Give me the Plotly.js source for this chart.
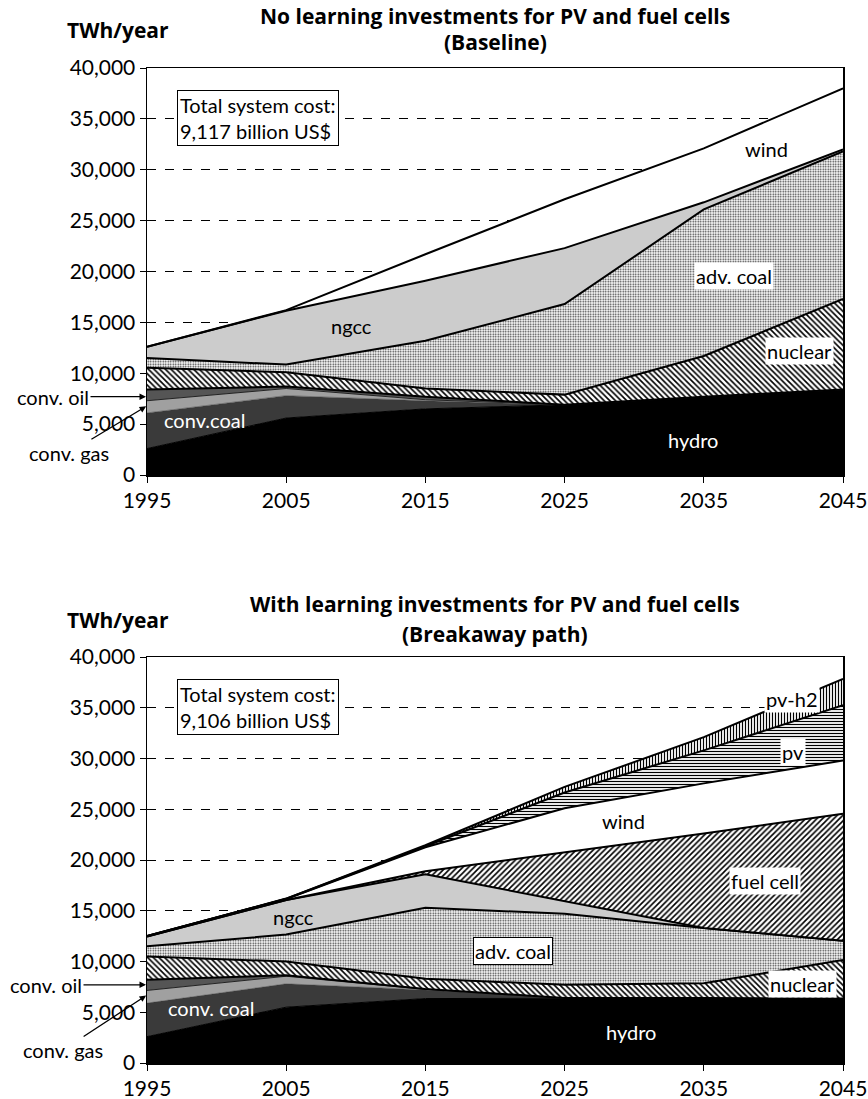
<!DOCTYPE html>
<html>
<head>
<meta charset="utf-8">
<script src="https://cdn.plot.ly/plotly-3.0.1.min.js"></script>
<style>html,body{margin:0;padding:0;background:#fff;}#chart{width:868px;height:1099px;}</style>
</head>
<body>
<div id="chart"></div>
<script>
const years = [1995, 2005, 2015, 2025, 2035, 2045];
const tickVals = [0, 5000, 10000, 15000, 20000, 25000, 30000, 35000, 40000];

// Baseline (top chart), TWh/year per technology
const baseHydro   = [2600, 5600, 6500, 6900, 7700, 8400];
const baseConvCoal= [3500, 2200, 800, 0, 0, 0];
const baseConvGas = [1200, 700, 100, 0, 0, 0];
const baseConvOil = [1100, 200, 300, 0, 0, 0];
const baseNuclear = [2150, 1400, 800, 1000, 4000, 8900];
const baseAdvCoal = [950, 750, 4700, 8900, 14400, 14500];
const baseNgcc    = [1100, 5300, 5900, 5500, 700, 200];
const baseWind    = [0, 50, 2600, 4800, 5300, 6000];

// Breakaway path (bottom chart)
const brkHydro    = [2600, 5500, 6350, 6400, 6400, 6350];
const brkConvCoal = [3300, 2300, 850, 0, 0, 0];
const brkConvGas  = [1250, 750, 50, 0, 0, 0];
const brkConvOil  = [1050, 100, 50, 0, 0, 0];
const brkNuclear  = [2300, 1350, 1000, 1300, 1450, 3800];
const brkAdvCoal  = [1000, 2650, 7000, 7000, 5450, 1900];
const brkNgcc     = [950, 3400, 3300, 1250, 0, 0];
const brkFuelCell = [0, 0, 300, 4800, 9300, 12500];
const brkWind     = [50, 100, 2350, 4350, 4950, 5250];
const brkPv       = [0, 30, 100, 1550, 3250, 5450];
const brkPvH2     = [0, 20, 100, 550, 1300, 2600];

const FONT = 'Lato, "Open Sans", sans-serif';
const BFONT = '"Open Sans", Lato, sans-serif';

const styles = {
  hydro:   {fillcolor: '#000000', line: {color: '#000', width: 1}},
  coal:    {fillcolor: '#3a3a3a', line: {color: '#3a3a3a', width: 0.5}},
  gas:     {fillcolor: '#a0a0a0', line: {color: '#222', width: 1}},
  oil:     {fillcolor: '#555555', line: {color: '#000', width: 2}},
  nuclear: {fillcolor: '#ffffff', fillpattern: {shape: '\\', fgcolor: '#000', bgcolor: '#fff', size: 4, solidity: 0.4}, line: {color: '#000', width: 2}},
  advcoal: {fillcolor: '#ffffff', fillpattern: {shape: '.', fgcolor: '#333', bgcolor: '#fff', size: 2.5, solidity: 0.35}, line: {color: '#000', width: 2}},
  ngcc:    {fillcolor: '#cccccc', line: {color: '#000', width: 2}},
  fuel:    {fillcolor: '#ffffff', fillpattern: {shape: '/', fgcolor: '#000', bgcolor: '#fff', size: 4, solidity: 0.4}, line: {color: '#000', width: 2}},
  wind:    {fillcolor: '#ffffff', line: {color: '#000', width: 2}},
  pv:      {fillcolor: '#ffffff', fillpattern: {shape: '-', fgcolor: '#000', bgcolor: '#fff', size: 3, solidity: 0.4}, line: {color: '#000', width: 2}},
  pvh2:    {fillcolor: '#ffffff', fillpattern: {shape: '|', fgcolor: '#000', bgcolor: '#fff', size: 3, solidity: 0.4}, line: {color: '#000', width: 2}}
};

function area(name, vals, style, xa, ya, group) {
  const t = {
    type: 'scatter', mode: 'lines', name: name, x: years, y: vals,
    stackgroup: group, xaxis: xa, yaxis: ya,
    fillcolor: style.fillcolor, line: Object.assign({shape: 'linear'}, style.line),
    hoverinfo: 'skip', showlegend: false
  };
  if (style.fillpattern) t.fillpattern = Object.assign({fillmode: 'replace'}, style.fillpattern);
  return t;
}

const data = [
  area('hydro', baseHydro, styles.hydro, 'x', 'y', 'a'),
  area('conv. coal', baseConvCoal, styles.coal, 'x', 'y', 'a'),
  area('conv. gas', baseConvGas, styles.gas, 'x', 'y', 'a'),
  area('conv. oil', baseConvOil, styles.oil, 'x', 'y', 'a'),
  area('nuclear', baseNuclear, styles.nuclear, 'x', 'y', 'a'),
  area('adv. coal', baseAdvCoal, styles.advcoal, 'x', 'y', 'a'),
  area('ngcc', baseNgcc, styles.ngcc, 'x', 'y', 'a'),
  area('wind', baseWind, styles.wind, 'x', 'y', 'a'),

  area('hydro', brkHydro, styles.hydro, 'x2', 'y2', 'b'),
  area('conv. coal', brkConvCoal, styles.coal, 'x2', 'y2', 'b'),
  area('conv. gas', brkConvGas, styles.gas, 'x2', 'y2', 'b'),
  area('conv. oil', brkConvOil, styles.oil, 'x2', 'y2', 'b'),
  area('nuclear', brkNuclear, styles.nuclear, 'x2', 'y2', 'b'),
  area('adv. coal', brkAdvCoal, styles.advcoal, 'x2', 'y2', 'b'),
  area('ngcc', brkNgcc, styles.ngcc, 'x2', 'y2', 'b'),
  area('fuel cell', brkFuelCell, styles.fuel, 'x2', 'y2', 'b'),
  area('wind', brkWind, styles.wind, 'x2', 'y2', 'b'),
  area('pv', brkPv, styles.pv, 'x2', 'y2', 'b'),
  area('pv-h2', brkPvH2, styles.pvh2, 'x2', 'y2', 'b')
];

function xAxis(anchor) {
  return {
    anchor: anchor, domain: [0, 1], range: [1995, 2045], tickvals: years,
    ticks: 'outside', ticklen: 6, tickcolor: '#000', tickwidth: 1,
    showline: true, linecolor: '#000', linewidth: 1.5, mirror: true,
    showgrid: false, zeroline: false,
    tickfont: {family: FONT, size: 21, color: '#000'}
  };
}
function yAxis(anchor, domain) {
  return {
    anchor: anchor, domain: domain, range: [0, 40000], tickvals: tickVals, tickformat: ',d',
    ticks: 'outside', ticklen: 6, tickcolor: '#000', tickwidth: 1,
    showline: true, linecolor: '#000', linewidth: 1.5, mirror: true,
    showgrid: true, gridcolor: '#000', gridwidth: 1, griddash: 'dash',
    zeroline: false,
    tickfont: {family: FONT, size: 21, color: '#000'}
  };
}

const lf = {family: FONT, size: 20, color: '#000'};
const wf = {family: FONT, size: 20, color: '#fff'};
const tf = {family: BFONT, size: 21, color: '#000', weight: 'bold'};

function lab(xr, yr, x, y, text, font, extra) {
  return Object.assign({xref: xr, yref: yr, x: x, y: y, text: text, showarrow: false, font: font}, extra || {});
}
function py(p) { return (1063 - p) / 995; }
function px(p) { return (p - 147) / 696; }

const annotations = [
  // top chart headings
  lab('paper', 'paper', px(495), py(16), '<b>No learning investments for PV and fuel cells</b>', tf, {xanchor: 'center', yanchor: 'middle'}),
  lab('paper', 'paper', px(495), py(42), '<b>(Baseline)</b>', tf, {xanchor: 'center', yanchor: 'middle'}),
  lab('paper', 'paper', px(65), py(30), '<b>TWh/year</b>', tf, {xanchor: 'left', yanchor: 'middle'}),
  lab('x', 'y', 2003.0, 35100, 'Total system cost:<br>9,117 billion US$', lf,
      {align: 'left', bgcolor: '#fff', bordercolor: '#000', borderwidth: 1, borderpad: 2}),
  lab('x', 'y', 2039.5, 32000, 'wind', lf),
  lab('x', 'y', 2009.7, 14600, 'ngcc', lf),
  lab('x', 'y', 2037.2, 19600, 'adv. coal', lf, {bgcolor: '#fff'}),
  lab('x', 'y', 2041.9, 12150, 'nuclear', lf, {bgcolor: '#fff'}),
  lab('x', 'y', 2034.2, 3400, 'hydro', wf),
  lab('x', 'y', 1999.1, 5400, 'conv.coal', wf),
  {xref: 'x', yref: 'y', x: 1995, y: 7700, ax: -94, ay: 0, axref: 'pixel', ayref: 'pixel',
   text: 'conv. oil', font: lf, showarrow: true, arrowhead: 2, arrowsize: 1, arrowwidth: 1.3, arrowcolor: '#000', standoff: 1},
  {xref: 'x', yref: 'y', x: 1995, y: 6800, ax: -78, ay: 47, axref: 'pixel', ayref: 'pixel',
   text: 'conv. gas', font: lf, showarrow: true, arrowhead: 2, arrowsize: 1, arrowwidth: 1.3, arrowcolor: '#000', standoff: 1},

  // bottom chart headings
  lab('paper', 'paper', px(495), py(604), '<b>With learning investments for PV and fuel cells</b>', tf, {xanchor: 'center', yanchor: 'middle'}),
  lab('paper', 'paper', px(495), py(634), '<b>(Breakaway path)</b>', tf, {xanchor: 'center', yanchor: 'middle'}),
  lab('paper', 'paper', px(65), py(620), '<b>TWh/year</b>', tf, {xanchor: 'left', yanchor: 'middle'}),
  lab('x2', 'y2', 2003.0, 35100, 'Total system cost:<br>9,106 billion US$', lf,
      {align: 'left', bgcolor: '#fff', bordercolor: '#000', borderwidth: 1, borderpad: 2}),
  lab('x2', 'y2', 2041.3, 35900, 'pv-h2', lf, {bgcolor: '#fff'}),
  lab('x2', 'y2', 2041.4, 30650, 'pv', lf, {bgcolor: '#fff'}),
  lab('x2', 'y2', 2029.2, 23800, 'wind', lf),
  lab('x2', 'y2', 2039.4, 17900, 'fuel cell', lf, {bgcolor: '#fff'}),
  lab('x2', 'y2', 2005.5, 14400, 'ngcc', lf),
  lab('x2', 'y2', 2021.3, 11000, 'adv. coal', lf, {bgcolor: '#fff', bordercolor: '#000', borderwidth: 1}),
  lab('x2', 'y2', 2042.1, 7800, 'nuclear', lf, {bgcolor: '#fff'}),
  lab('x2', 'y2', 2029.8, 3100, 'hydro', wf),
  lab('x2', 'y2', 1999.6, 5450, 'conv. coal', wf),
  {xref: 'x2', yref: 'y2', x: 1995, y: 7700, ax: -101, ay: 0, axref: 'pixel', ayref: 'pixel',
   text: 'conv. oil', font: lf, showarrow: true, arrowhead: 2, arrowsize: 1, arrowwidth: 1.3, arrowcolor: '#000', standoff: 1},
  {xref: 'x2', yref: 'y2', x: 1995, y: 6700, ax: -84, ay: 55, axref: 'pixel', ayref: 'pixel',
   text: 'conv. gas', font: lf, showarrow: true, arrowhead: 2, arrowsize: 1, arrowwidth: 1.3, arrowcolor: '#000', standoff: 1}
];

const layout = {
  width: 868, height: 1099,
  margin: {l: 147, r: 25, t: 68, b: 36},
  paper_bgcolor: '#fff', plot_bgcolor: '#fff',
  showlegend: false,
  font: {family: FONT, color: '#000'},
  xaxis: xAxis('y'),
  yaxis: yAxis('x', [(1063 - 475) / 995, 1]),
  xaxis2: xAxis('y2'),
  yaxis2: yAxis('x2', [0, (1063 - 657) / 995]),
  annotations: annotations
};

Plotly.newPlot('chart', data, layout, {staticPlot: true, displayModeBar: false});
</script>
</body>
</html>
